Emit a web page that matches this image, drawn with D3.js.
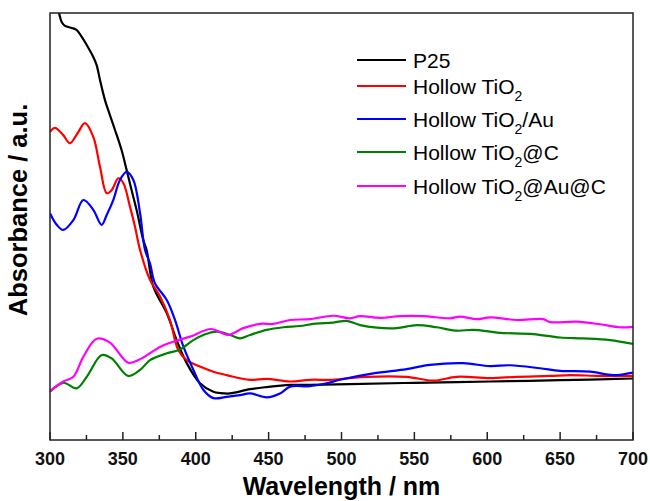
<!DOCTYPE html>
<html>
<head>
<meta charset="utf-8">
<script src="https://cdn.jsdelivr.net/npm/d3@7"></script>
<style>
  html, body { margin: 0; padding: 0; background: #fff; }
  svg { display: block; font-family: "Liberation Sans", Arial, sans-serif; }
</style>
</head>
<body>
<svg id="chart" width="650" height="501"></svg>
<script>
// ---- data (wavelength nm, absorbance a.u.) ----
const seriesNames = ["P25", "Hollow TiO2", "Hollow TiO2/Au", "Hollow TiO2@C", "Hollow TiO2@Au@C"];
const xTicks = [300, 350, 400, 450, 500, 550, 600, 650, 700];

const p25 = [[300,1.09],[306.2,1.0],[308,0.979],[310.3,0.97],[315,0.965],[318.4,0.96],[321.8,0.944],[325.2,0.925],[329.7,0.897],[332,0.878],[334.3,0.843],[337.7,0.796],[341.1,0.761],[344.6,0.726],[349.1,0.679],[352.6,0.632],[356,0.585],[359.4,0.539],[364,0.468],[366.3,0.445],[370.9,0.359],[380.1,0.297],[386.9,0.234],[393.8,0.18],[402.9,0.133],[412.1,0.113],[416.6,0.11],[423.5,0.109],[437.2,0.119],[448.6,0.124],[464.6,0.129],[478.3,0.129],[505.8,0.131],[550,0.134],[601.9,0.137],[650,0.14],[700,0.144]];

const hollow = [[300,0.722],[303.4,0.731],[309.1,0.714],[313.7,0.695],[319,0.719],[324,0.742],[329.7,0.71],[334.3,0.64],[338.9,0.578],[342.3,0.585],[346.9,0.613],[350.3,0.602],[354.9,0.546],[358.3,0.5],[361.8,0.445],[368.6,0.375],[375.5,0.336],[382.3,0.281],[388,0.211],[393.8,0.187],[402.9,0.172],[412.1,0.16],[421.2,0.152],[437.2,0.141],[448.7,0.143],[464.7,0.137],[478.4,0.141],[492.1,0.141],[505.8,0.145],[517.3,0.148],[544.7,0.148],[563,0.139],[579,0.148],[601.9,0.145],[620.2,0.148],[643.1,0.15],[656.8,0.152],[677.4,0.15],[700,0.15]];

const hollowAu = [[300,0.531],[304.6,0.504],[309.1,0.492],[316,0.515],[322.9,0.562],[329.7,0.539],[335.4,0.504],[338.9,0.527],[343.4,0.562],[348,0.609],[352.6,0.628],[357.2,0.609],[361.8,0.531],[365.2,0.445],[368.6,0.414],[372,0.367],[380.1,0.328],[385.8,0.281],[391.5,0.219],[398.4,0.164],[405.3,0.117],[412.1,0.098],[421.2,0.101],[430.4,0.105],[437.2,0.109],[448.7,0.1],[457.8,0.109],[464.7,0.125],[478.4,0.126],[489.8,0.133],[499,0.141],[521.8,0.156],[544.7,0.166],[560.7,0.176],[583.5,0.18],[601.9,0.173],[615.6,0.175],[636.2,0.168],[649.9,0.162],[670.5,0.16],[686.5,0.152],[700,0.158]];

const hollowC = [[300,0.113],[309.1,0.134],[318.3,0.121],[325.2,0.148],[335.5,0.199],[342.3,0.191],[353.7,0.15],[361.8,0.164],[368.6,0.187],[380.1,0.203],[389.2,0.212],[398.3,0.234],[405.2,0.246],[414.4,0.254],[423.5,0.246],[430.4,0.238],[437.2,0.246],[448.7,0.258],[460.1,0.264],[471.5,0.267],[480.7,0.272],[494.4,0.275],[503.6,0.279],[512.7,0.269],[524.2,0.263],[537.9,0.262],[551.6,0.269],[565.3,0.264],[579,0.256],[590.4,0.258],[601.9,0.254],[608.7,0.251],[631.6,0.248],[649.9,0.24],[665.9,0.238],[684.2,0.234],[700,0.225]];

const hollowAuC = [[300,0.115],[309.1,0.137],[316,0.148],[322.9,0.195],[332,0.237],[341.1,0.228],[353.7,0.181],[361.8,0.189],[375.5,0.218],[388,0.234],[396.1,0.242],[410.5,0.26],[422.3,0.246],[432.6,0.262],[444.1,0.272],[453.2,0.272],[464.7,0.281],[478.4,0.283],[494.4,0.291],[505.8,0.285],[512.7,0.29],[526.4,0.286],[540.1,0.29],[556.1,0.29],[574.4,0.285],[581.3,0.289],[592.8,0.283],[601.9,0.287],[620.2,0.281],[638.4,0.283],[643.1,0.276],[661.4,0.277],[677.4,0.271],[691.1,0.264],[700,0.265]];

const seriesData = [p25, hollow, hollowAu, hollowC, hollowAuC];
const seriesColors = ["#000000", "#ff0000", "#0000ff", "#008000", "#ff00ff"];

// ---- layout ----
const svg = d3.select("#chart");
const L = 50, R = 633, T = 13, B = 440;
const x = d3.scaleLinear().domain([300, 700]).range([L, R]);
const y = d3.scaleLinear().domain([0, 1]).range([B, T]);

svg.append("defs").append("clipPath").attr("id", "clip")
  .append("rect").attr("x", L).attr("y", T).attr("width", R - L).attr("height", B - T);

const line = d3.line().x(d => x(d[0])).y(d => y(d[1])).curve(d3.curveCatmullRom.alpha(0.5));

const g = svg.append("g").attr("clip-path", "url(#clip)");
seriesData.forEach((s, i) => {
  g.append("path").datum(s)
    .attr("d", line)
    .attr("fill", "none")
    .attr("stroke", seriesColors[i])
    .attr("stroke-width", 2.2)
    .attr("stroke-linejoin", "round");
});

// bottom axis with inward ticks
const minorTicks = d3.range(325, 700, 50);
const axisG = svg.append("g");
axisG.selectAll("line.major").data(xTicks).join("line")
  .attr("x1", d => x(d)).attr("x2", d => x(d))
  .attr("y1", B).attr("y2", B - 8)
  .attr("stroke", "#222").attr("stroke-width", 1.5);
axisG.selectAll("line.minor").data(minorTicks).join("line")
  .attr("x1", d => x(d)).attr("x2", d => x(d))
  .attr("y1", B).attr("y2", B - 5)
  .attr("stroke", "#222").attr("stroke-width", 1.5);
axisG.selectAll("text").data(xTicks).join("text")
  .attr("x", d => x(d)).attr("y", 465)
  .attr("text-anchor", "middle")
  .attr("font-size", 18).attr("font-weight", "bold").attr("fill", "#111")
  .text(d => d);

// frame
svg.append("rect").attr("x", L).attr("y", T).attr("width", R - L).attr("height", B - T)
  .attr("fill", "none").attr("stroke", "#222").attr("stroke-width", 1.5);

// axis titles
svg.append("text").attr("x", (L + R) / 2).attr("y", 495)
  .attr("text-anchor", "middle").attr("font-size", 25).attr("font-weight", "bold").attr("fill", "#000")
  .text("Wavelength / nm");
svg.append("text").attr("transform", "translate(27,210) rotate(-90)")
  .attr("text-anchor", "middle").attr("font-size", 25.5).attr("font-weight", "bold").attr("fill", "#000")
  .text("Absorbance / a.u.");

// legend
const legendY = [60, 86, 119, 152, 186];
const leg = svg.append("g");
seriesNames.forEach((name, i) => {
  const yy = legendY[i];
  leg.append("line").attr("x1", 357).attr("x2", 406).attr("y1", yy).attr("y2", yy)
    .attr("stroke", seriesColors[i]).attr("stroke-width", 2.2);
  const t = leg.append("text").attr("x", 413).attr("y", yy + 7.5)
    .attr("font-size", 21).attr("fill", "#000");
  const m = name.match(/^(.*TiO)2(.*)$/);
  if (m) {
    t.append("tspan").text(m[1]);
    t.append("tspan").attr("font-size", 14).attr("dy", 7).text("2");
    if (m[2]) t.append("tspan").attr("dy", -7).text(m[2]);
  } else {
    t.text(name);
  }
});
</script>
</body>
</html>
